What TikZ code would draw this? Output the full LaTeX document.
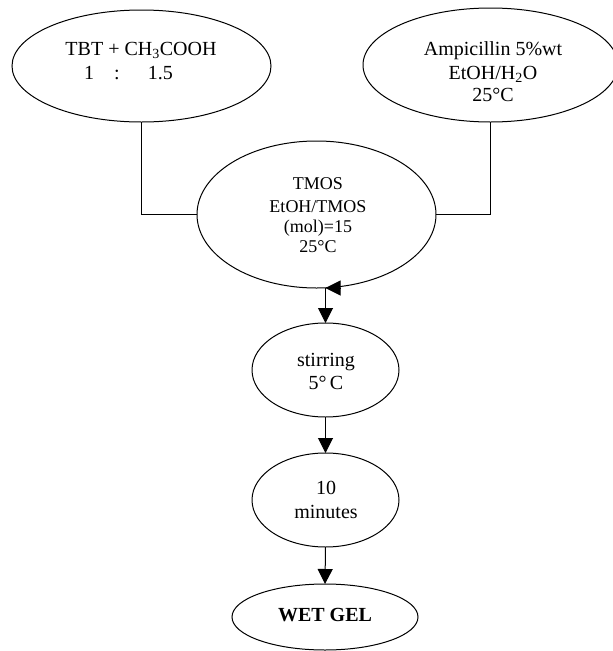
\documentclass[tikz,border=0pt]{standalone}
\usepackage{fontspec}
\setmainfont{Liberation Serif}
\usetikzlibrary{arrows.meta,shapes.geometric}
\begin{document}
\begin{tikzpicture}[x=1pt,y=-1pt,
  ell/.style={draw,ellipse,line width=1pt,inner sep=0pt,outer sep=0pt},
  txt/.style={anchor=base,inner sep=0pt,font=\fontsize{20}{24}\selectfont},
  txts/.style={anchor=base,inner sep=0pt,font=\fontsize{18}{21}\selectfont},
  conn/.style={line width=1pt},
  arr/.style={line width=1pt,-{Triangle[length=15pt,width=15pt]}}]
\useasboundingbox[fill=white] (0,0) rectangle (613,651);
% ellipses
\node[ell,minimum width=259pt,minimum height=112pt] (tbt) at (141.5,66) {};
\node[ell,minimum width=255pt,minimum height=114pt] (amp) at (490.5,65) {};
\node[ell,minimum width=239pt,minimum height=147pt] (tmos) at (316.5,214.5) {};
\node[ell,minimum width=147pt,minimum height=94pt] (stir) at (325.5,370) {};
\node[ell,minimum width=147pt,minimum height=94pt] (mins) at (325.5,500) {};
\node[ell,minimum width=186pt,minimum height=66pt] (wet) at (325,617) {};
% texts
\node[txt] (tbtA) at (141,55) {TBT + CH\textsubscript{3}COOH};
\node[txt,anchor=base west] (tbtB) at (84,79) {1\hspace{20pt}:\hspace{28pt}1.5};
\node[txt] (ampA) at (493,55) {Ampicillin 5\%wt};
\node[txt] (ampB) at (493,79) {EtOH/H\textsubscript{2}O};
\node[txt] (ampC) at (493,101) {25°C};
\node[txts] (tmA) at (318,189) {TMOS};
\node[txts] (tmB) at (318,212) {EtOH/TMOS};
\node[txts] (tmC) at (318,232) {(mol)=15};
\node[txts] (tmD) at (318,252) {25°C};
\node[txt] (stA) at (326,366) {stirring};
\node[txt] (stB) at (326,389) {5°\,C};
\node[txt] (mnA) at (326,494) {10};
\node[txt] (mnB) at (326,518) {minutes};
\node[txt,font=\fontsize{20}{24}\selectfont\bfseries] (wtA) at (325,621) {WET GEL};
% connectors
\draw[conn] (tbt.south) |- (tmos.west);
\draw[conn] (amp.south) |- (tmos.east);
\coordinate (tb) at (tmos.south -| stir.north);
\draw[arr] ([xshift=15pt]tb) -- (tb);
\draw[arr] (tb) -- (stir.north);
\draw[arr] (stir.south) -- (mins.north);
\draw[arr] (mins.south) -- (wet.north);
\end{tikzpicture}
\end{document}
